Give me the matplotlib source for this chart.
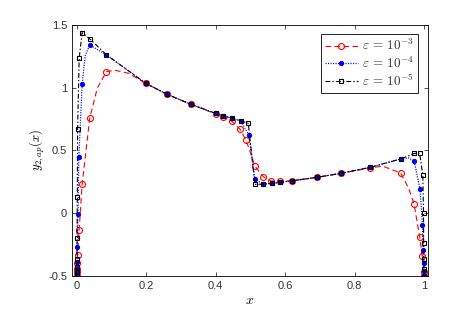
import numpy as np
import matplotlib.pyplot as plt

plt.rcParams['mathtext.fontset'] = 'cm'
plt.rcParams['font.family'] = ['Liberation Sans', 'DejaVu Sans']
plt.rcParams['lines.scale_dashes'] = False

# eps = 1e-3 (red), curve points; nodes are the marked ones
x_r = [0.0, 0.0005, 0.001, 0.002, 0.003, 0.0075, 0.016, 0.038, 0.06, 0.086, 0.11, 0.15,
       0.199, 0.261, 0.33, 0.401, 0.422, 0.446, 0.470, 0.488, 0.510, 0.513, 0.537, 0.559,
       0.585, 0.621, 0.691, 0.76, 0.845, 0.88, 0.932, 0.955, 0.971, 0.987, 0.994, 0.998, 1.0]
y_r = [-0.5, -0.47, -0.45, -0.40, -0.335, -0.135, 0.23, 0.76, 1.0, 1.128, 1.14, 1.115,
       1.035, 0.947, 0.867, 0.79, 0.765, 0.734, 0.67, 0.58, 0.40, 0.375, 0.29, 0.256,
       0.252, 0.258, 0.285, 0.317, 0.36, 0.375, 0.32, 0.2, 0.07, -0.19, -0.34, -0.47, -0.5]
mk_r = [0, 1, 2, 3, 4, 5, 6, 7, 9, 12, 13, 14, 15, 16, 17, 18, 19, 21, 22, 23,
        24, 25, 26, 27, 28, 30, 32, 33, 34, 35, 36]

# eps = 1e-4 (blue)
x_b = [0.0, 0.0004, 0.0008, 0.0015, 0.0025, 0.004, 0.0066, 0.016, 0.025, 0.038, 0.086,
       0.199, 0.261, 0.33, 0.401, 0.422, 0.448, 0.472, 0.496, 0.513, 0.537, 0.561,
       0.585, 0.621, 0.691, 0.76, 0.845, 0.934, 0.955, 0.971, 0.988, 0.995, 0.997,
       0.998, 0.999, 1.0]
y_b = [-0.5, -0.48, -0.45, -0.39, -0.27, -0.01, 0.45, 1.03, 1.26, 1.34, 1.263,
       1.035, 0.947, 0.867, 0.795, 0.776, 0.755, 0.737, 0.62, 0.27, 0.231, 0.237,
       0.244, 0.258, 0.285, 0.317, 0.365, 0.433, 0.44, 0.415, 0.19, -0.096, -0.295,
       -0.4, -0.46, -0.5]
mk_b = [i for i in range(len(x_b)) if i not in (8, 28)]

# eps = 1e-5 (black)
x_k = [0.0, 0.0003, 0.0006, 0.001, 0.0015, 0.002, 0.003, 0.0075, 0.016, 0.038, 0.086,
       0.199, 0.261, 0.33, 0.401, 0.422, 0.448, 0.472, 0.494, 0.513, 0.537, 0.561,
       0.585, 0.621, 0.691, 0.76, 0.845, 0.934, 0.971, 0.987, 0.996, 0.998, 0.9985,
       0.999, 0.9995, 1.0]
y_k = [-0.5, -0.47, -0.43, -0.37, -0.2, 0.13, 0.67, 1.234, 1.44, 1.39, 1.263,
       1.035, 0.947, 0.867, 0.795, 0.776, 0.755, 0.737, 0.716, 0.229, 0.231, 0.237,
       0.244, 0.258, 0.285, 0.317, 0.365, 0.433, 0.476, 0.476, 0.303, 0.0, -0.237,
       -0.37, -0.45, -0.5]

labels = [r'$\varepsilon\, =\, 10^{-3}$', r'$\varepsilon\, =\, 10^{-4}$', r'$\varepsilon\, =\, 10^{-5}$']

fig = plt.figure(figsize=(4.74, 3.18), dpi=100)
ax = fig.add_axes([0.152, 0.133, 0.751, 0.788])

ax.plot(x_r, y_r, 'r--o', lw=0.8, ms=4.3, mfc='none', mew=0.8, markevery=mk_r,
        dashes=(4, 2.5), label=labels[0])
ax.plot(x_b, y_b, 'b:.', lw=0.9, ms=5.5, markevery=mk_b, dashes=(0.8, 1.0), label=labels[1])
ax.plot(x_k, y_k, 'k-.s', lw=0.8, ms=3, mfc='none', mew=0.8, dashes=(3.5, 1.5, 1, 1.5),
        label=labels[2])

ax.set_xlim(-0.013, 1.011)
ax.set_ylim(-0.5, 1.5)
ax.set_xticks([0, 0.2, 0.4, 0.6, 0.8, 1])
ax.set_xticklabels(['0', '0.2', '0.4', '0.6', '0.8', '1'])
ax.set_yticks([-0.5, 0, 0.5, 1, 1.5])
ax.set_yticklabels(['-0.5', '0', '0.5', '1', '1.5'])
ax.tick_params(direction='in', top=True, right=True, length=3, width=0.6, labelsize=8, colors='#333333')
for s in ax.spines.values():
    s.set_linewidth(0.6)

ax.set_xlabel(r'$x$', fontsize=10, labelpad=2)
ax.set_ylabel(r'$y_{2,ap}(x)$', fontsize=9, labelpad=1)

leg = ax.legend(loc='upper right', fontsize=9.5, handlelength=2.5, borderpad=0.3,
                labelspacing=0.15, handletextpad=0.3, fancybox=False, framealpha=1,
                borderaxespad=0, bbox_to_anchor=(0.972, 0.964))
leg.get_frame().set_edgecolor('k')
leg.get_frame().set_linewidth(0.6)
for t in leg.get_texts():
    t.set_color('#333333')

fig.savefig('out.png', dpi=100)
